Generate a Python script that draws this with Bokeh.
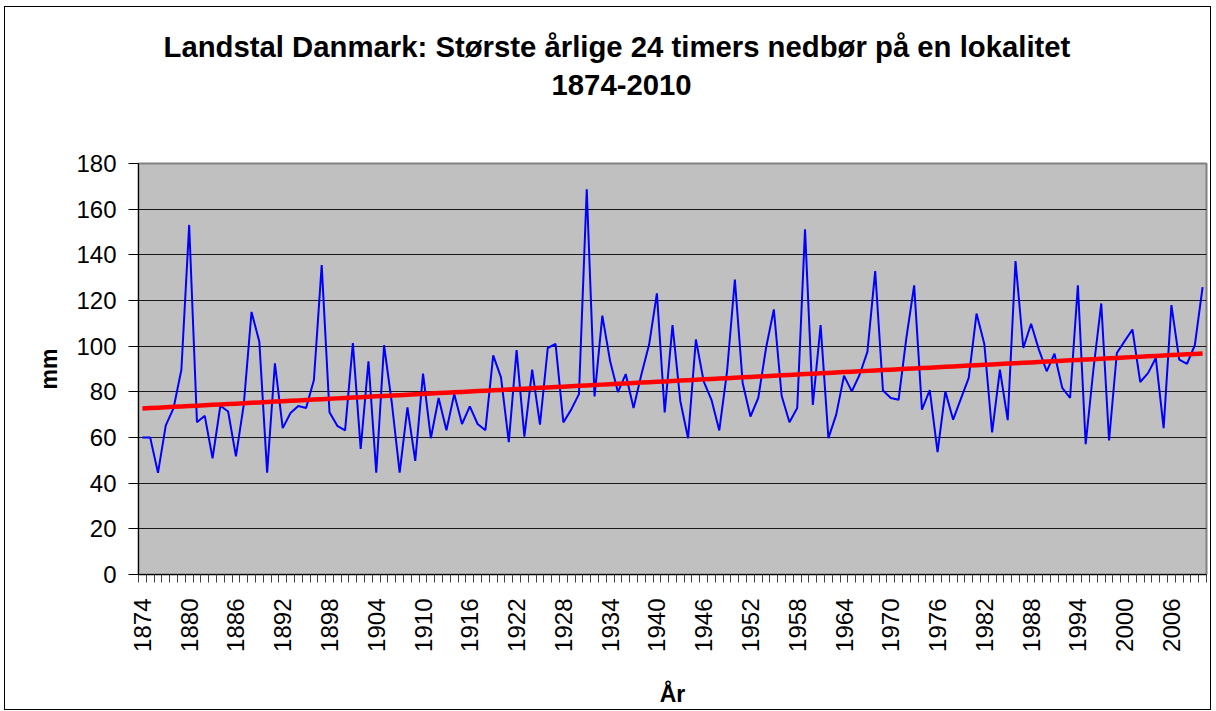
import numpy as np
from bokeh.plotting import figure
from bokeh.models import Range1d, FixedTicker, Title, ColumnDataSource
from bokeh.embed import file_html
from bokeh.resources import INLINE

title_line1 = "Landstal Danmark: Største årlige 24 timers nedbør på en lokalitet"
title_line2 = "1874-2010"
x_label = "År"
y_label = "mm"

years = list(range(1874, 2011))
rain_mm = [
    60.0, 60.0, 44.5, 65.3, 72.9, 89.7, 153.1, 66.7, 69.5, 50.9,      # 1874-1883
    73.9, 71.4, 51.7, 74.3, 115.0, 101.9, 44.6, 92.5, 64.1, 70.7,     # 1884-1893
    73.8, 72.9, 85.2, 135.5, 71.1, 65.1, 63.1, 101.3, 55.0, 93.4,     # 1894-1903
    44.6, 100.4, 75.0, 44.6, 73.2, 49.8, 88.0, 59.7, 77.3, 63.2,      # 1904-1913
    79.0, 65.9, 73.6, 65.9, 63.2, 96.0, 86.3, 58.0, 98.3, 60.4,       # 1914-1923
    89.7, 65.6, 99.2, 101.0, 66.6, 72.2, 79.0, 168.7, 78.0, 113.4,    # 1924-1933
    93.4, 79.9, 87.8, 72.9, 87.5, 100.7, 123.1, 71.0, 109.2, 76.0,    # 1934-1943
    59.7, 102.9, 84.6, 76.5, 63.1, 89.0, 129.2, 83.9, 69.2, 77.3,     # 1944-1953
    99.2, 116.1, 78.3, 66.7, 72.9, 151.2, 74.3, 109.2, 59.7, 70.0,    # 1954-1963
    87.1, 80.2, 87.5, 97.5, 132.9, 80.6, 77.3, 76.5, 103.6, 126.6,    # 1964-1973
    72.2, 80.8, 53.6, 80.2, 67.8, 77.0, 86.1, 114.3, 101.0, 62.2,     # 1974-1983
    89.7, 67.6, 137.3, 99.2, 109.8, 98.5, 89.0, 96.7, 81.7, 77.3,     # 1984-1993
    126.7, 57.1, 90.0, 118.7, 58.7, 97.0, 102.2, 107.3, 84.3, 88.2,   # 1994-2003
    94.8, 64.1, 118.0, 94.1, 92.2, 100.4, 125.9,                      # 2004-2010
]
x_tick_years = list(range(1874, 2011, 6))
y_ticks = list(range(0, 181, 20))

# linear trend (as in the spreadsheet's trendline)
slope, intercept = np.polyfit(years, rain_mm, 1)
trend = [slope * y + intercept for y in years]

src = ColumnDataSource(dict(year=years, rain=rain_mm, trend=trend))

FONT = "Liberation Sans"

p = figure(width=1207, height=704, output_backend="svg", toolbar_location=None,
           x_range=Range1d(years[0] - 0.5, years[-1] + 0.5),
           y_range=Range1d(0, 180),
           min_border_left=133, min_border_right=6, min_border_top=156,
           min_border_bottom=137)

p.background_fill_color = "#C0C0C0"
p.border_fill_color = "white"
p.outline_line_color = "#808080"
p.outline_line_width = 2

p.line("year", "rain", source=src, line_color="#0000FF", line_width=2)
p.line("year", "trend", source=src, line_color="#FF0000", line_width=4.5)

# grid
p.xgrid.grid_line_color = None
p.ygrid.grid_line_color = "#1a1a1a"
p.ygrid.grid_line_width = 1
p.ygrid.ticker = FixedTicker(ticks=y_ticks)

# y axis
p.yaxis.ticker = FixedTicker(ticks=y_ticks)
p.yaxis.axis_line_color = "black"
p.yaxis.axis_line_width = 1
p.yaxis.major_tick_out = 10
p.yaxis.major_tick_in = 0
p.yaxis.minor_tick_line_color = None
p.yaxis.major_tick_line_color = "black"
p.yaxis.major_label_standoff = 12
p.yaxis.major_label_text_font = FONT
p.yaxis.major_label_text_font_size = "24px"
p.yaxis.major_label_text_color = "black"
p.yaxis.axis_label = y_label
p.yaxis.axis_label_text_font = FONT
p.yaxis.axis_label_text_font_size = "23px"
p.yaxis.axis_label_text_font_style = "bold"
p.yaxis.axis_label_text_color = "black"
p.yaxis.axis_label_standoff = 11

# x axis
p.xaxis.ticker = FixedTicker(ticks=x_tick_years,
                             minor_ticks=[y - 0.5 for y in years] + [years[-1] + 0.5])
p.xaxis.axis_line_color = "black"
p.xaxis.major_tick_line_color = None
p.xaxis.major_tick_out = 0
p.xaxis.major_tick_in = 0
p.xaxis.minor_tick_line_color = "#404040"
p.xaxis.minor_tick_out = 8
p.xaxis.minor_tick_in = 0
p.xaxis.major_label_orientation = np.pi / 2
p.xaxis.major_label_standoff = 16
p.xaxis.major_label_text_font = FONT
p.xaxis.major_label_text_font_size = "24px"
p.xaxis.major_label_text_color = "black"
p.xaxis.axis_label = x_label
p.xaxis.axis_label_text_font = FONT
p.xaxis.axis_label_text_font_size = "23px"
p.xaxis.axis_label_text_font_style = "bold"
p.xaxis.axis_label_text_color = "black"
p.xaxis.axis_label_standoff = 26

# two-line title, centred on the whole chart rather than the plot area
p.title = None
title_kw = dict(text_font=FONT, text_font_size="29.3px", text_font_style="bold",
                text_color="black")
p.add_layout(Title(text=" ", align="left", standoff=29, **title_kw), "above")   # spacer
p.add_layout(Title(text=title_line2, align="left", offset=413, standoff=10, **title_kw), "above")
p.add_layout(Title(text=title_line1, align="left", offset=25, standoff=10, **title_kw), "above")

p.styles = {"border": "1px solid #000000", "box-sizing": "border-box",
            "margin-left": "4px", "margin-top": "6px"}

with open("out.html", "w") as f:
    f.write(file_html(p, INLINE))
